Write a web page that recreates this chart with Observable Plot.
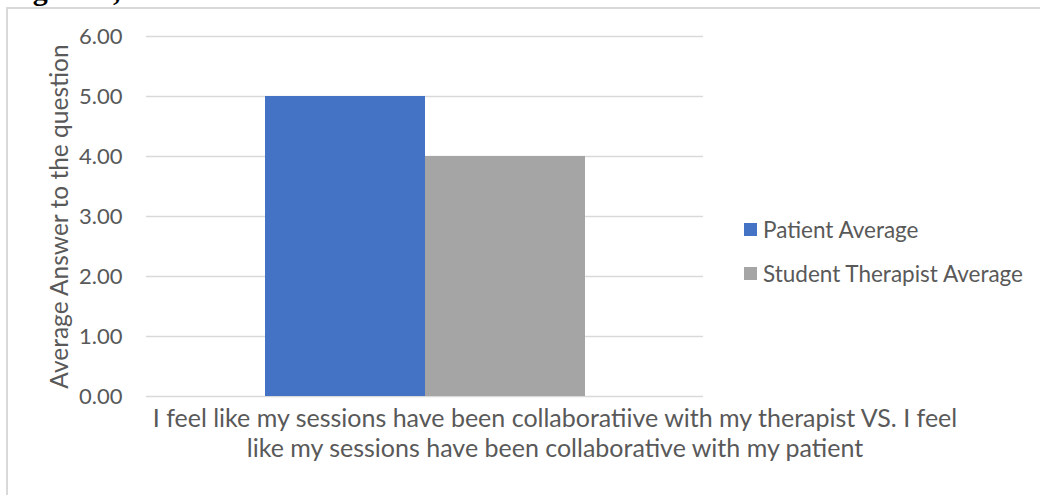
<!DOCTYPE html>
<html>
<head>
<meta charset="utf-8">
<script src="https://cdn.jsdelivr.net/npm/d3@7"></script>
<script src="https://cdn.jsdelivr.net/npm/@observablehq/plot@0.6"></script>
<style>
  html, body { margin: 0; padding: 0; background: #fff; overflow: hidden; }
  #wrap { position: relative; width: 1040px; height: 495px; overflow: hidden; background: #fff; font-family: Lato, sans-serif; }
  #fig { position: absolute; left: 6px; top: -25px; font-family: "Liberation Serif", serif; font-weight: bold; font-size: 30px; line-height: 30px; color: #000; white-space: nowrap; }
  #frame { position: absolute; left: 6px; top: 7px; width: 1100px; height: 600px; border: 2px solid #d9d9d9; box-sizing: border-box; }
  #chart { position: absolute; left: 0; top: 0; }
  #chart g[aria-label="y-axis label"] text { font-size: 24.5px; }
  #legend { position: absolute; left: 744px; top: 217px; font-family: Lato, sans-serif; font-size: 22.5px; color: #595959; }
  .item { display: flex; align-items: center; height: 24px; margin-bottom: 20px; white-space: nowrap; }
  .sw { width: 13px; height: 13px; margin-right: 6px; flex: none; }
</style>
</head>
<body>
<div id="wrap">
  <div id="fig">Figure 5,</div>
  <div id="frame"></div>
  <div id="chart"></div>
  <div id="legend"></div>
</div>
<script>
const categoryLines = [
  "I feel like my sessions have been collaboratiive with my therapist VS. I feel",
  "like my sessions have been collaborative with my patient"
];
const series = ["Patient Average", "Student Therapist Average"];
const values = [5.0, 4.0];
const colors = ["#4472c4", "#a5a5a5"];
const yTicks = [0, 1, 2, 3, 4, 5, 6];
const yTitle = "Average Answer to the question";

const data = series.map((s, i) => ({series: s, value: values[i]}));

const chart = Plot.plot({
  width: 1040,
  height: 495,
  marginLeft: 146,
  marginRight: 337,
  marginTop: 36,
  marginBottom: 99,
  style: {fontFamily: "Lato, sans-serif", fontSize: "22px", color: "#595959", background: "transparent", overflow: "visible"},
  x: {type: "band", domain: series, range: [265, 585], padding: 0, axis: null},
  y: {
    domain: [0, 6],
    ticks: yTicks,
    tickFormat: d3.format(".2f"),
    tickSize: 0,
    tickPadding: 24,
    label: yTitle,
    labelAnchor: "center",
    labelOffset: 96,
    labelArrow: "none"
  },
  color: {domain: series, range: colors},
  marks: [
    Plot.gridY(yTicks, {stroke: "#d9d9d9", strokeOpacity: 1, strokeWidth: 1.5}),
    Plot.barY(data, {x: "series", y: "value", fill: "series"}),
    Plot.text([categoryLines.join("\n")], {
      frameAnchor: "bottom",
      lineAnchor: "top",
      dx: 130,
      dy: 9.5,
      lineHeight: 1.2,
      fontSize: 25,
      fill: "#595959"
    })
  ]
});
document.getElementById("chart").appendChild(chart);

const legend = document.getElementById("legend");
series.forEach((s, i) => {
  const item = document.createElement("div");
  item.className = "item";
  const sw = document.createElement("span");
  sw.className = "sw";
  sw.style.background = colors[i];
  const t = document.createElement("span");
  t.textContent = s;
  item.appendChild(sw);
  item.appendChild(t);
  legend.appendChild(item);
});
</script>
</body>
</html>
